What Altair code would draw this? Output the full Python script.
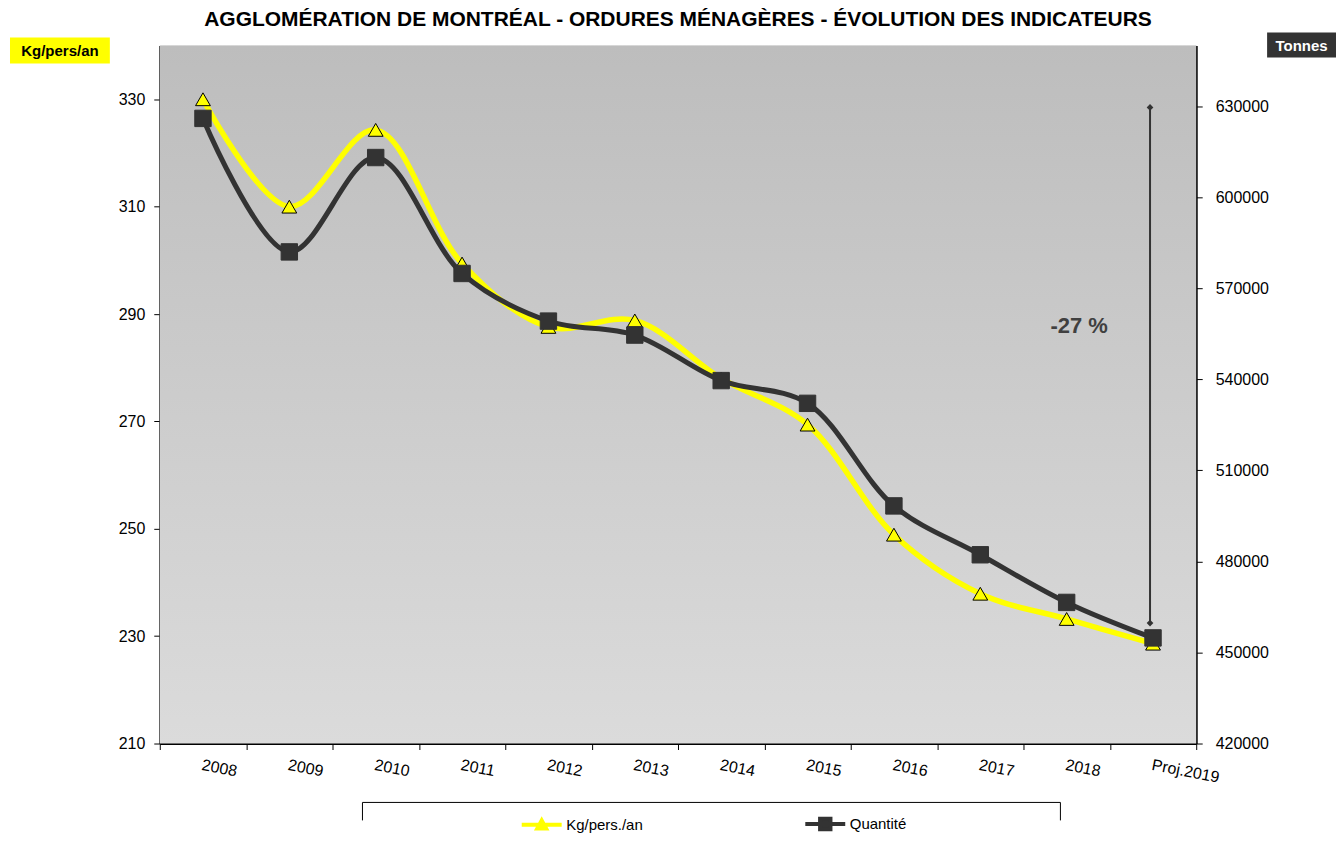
import altair as alt
import pandas as pd

years = ["2008", "2009", "2010", "2011", "2012", "2013", "2014", "2015",
         "2016", "2017", "2018", "Proj.2019"]
kg = [330, 310, 324.3, 299.4, 287.6, 288.8, 278, 269.4, 248.9, 237.9, 233.2, 228.6]
tonnes = [626000, 582000, 613100, 574900, 559200, 554600, 539600, 532100,
          498300, 482200, 466500, 454800]

ann_year = ["Proj.2019"]
ann_top = [629600]
ann_bottom = [459700]
ann_label = ["-27 %"]
ann_label_y = [557600]

series_names = ["Kg/pers./an", "Quantité"]
series_colors = ["#ffff00", "#333333"]
# legend symbols: short line segment with the series marker
legend_symbols = ["M-5,0H5M0,-1.1L1.1,0.9H-1.1Z", "M-5,0H5M-1.3,-1.3H1.3V1.3H-1.3Z"]

left_ticks = [210, 230, 250, 270, 290, 310, 330]
right_ticks = [420000, 450000, 480000, 510000, 540000, 570000, 600000, 630000]

W, H = 1038, 699
FONT = "Liberation Sans"

df_kg = pd.DataFrame({"annee": years, "valeur": kg, "serie": series_names[0]})
df_t = pd.DataFrame({"annee": years, "valeur": tonnes, "serie": series_names[1]})
df_leg = pd.DataFrame({"serie": series_names})
df_ann = pd.DataFrame({"annee": ann_year, "haut": ann_top, "bas": ann_bottom,
                       "label": ann_label, "ly": ann_label_y})
one = pd.DataFrame({"k": [0]})

xenc = alt.X("annee:N", sort=years, title=None,
             scale=alt.Scale(type="band", paddingInner=0, paddingOuter=0),
             axis=alt.Axis(tickBand="extent", labelAngle=11, labelAlign="left",
                           labelBaseline="top", labelPadding=7,
                           labelFontSize=16, labelFont=FONT, labelColor="black",
                           tickColor="black", tickSize=6, domainColor="black",
                           domainWidth=2))

left_scale = alt.Scale(domain=[210, 340], nice=False, zero=False)
right_scale = alt.Scale(domain=[420000, 650000], nice=False, zero=False)

left_axis = alt.Axis(values=left_ticks, grid=False,
                     title=None, labelFontSize=16, labelFont=FONT,
                     labelColor="black", tickColor="black", tickSize=6,
                     domainColor="black", domainWidth=2, labelPadding=9)
right_axis = alt.Axis(values=right_ticks, grid=False, title=None, orient="right", format="d",
                      labelFontSize=16, labelFont=FONT, labelColor="black",
                      tickColor="black", tickSize=6, domainColor="black",
                      domainWidth=2, labelPadding=13)

leg = alt.Legend(title=None, orient="none", legendX=375, legendY=772,
                 direction="horizontal", columnPadding=154,
                 labelFontSize=15, labelFont=FONT, labelColor="black",
                 symbolSize=64, labelOffset=17, symbolStrokeWidth=4, symbolOpacity=1)

color_scale = alt.Scale(domain=series_names, range=series_colors)
stroke_enc = alt.Stroke("serie:N", scale=color_scale, legend=leg)
fill_enc = alt.Fill("serie:N", scale=color_scale, legend=leg)
shape_enc = alt.Shape("serie:N", scale=alt.Scale(domain=series_names, range=legend_symbols),
                      legend=leg)

bg = alt.Chart(one).mark_rect(
    fill=alt.Gradient(gradient="linear",
                      stops=[alt.GradientStop(color="#bdbdbd", offset=0),
                             alt.GradientStop(color="#dbdbdb", offset=1)],
                      x1=0, x2=0, y1=0, y2=1)
).encode(x=alt.value(0), x2=alt.value(W), y=alt.value(0), y2=alt.value(H))

y_kg = alt.Y("valeur:Q", scale=left_scale, axis=left_axis)
left = alt.layer(
    alt.Chart(df_kg).mark_line(strokeWidth=5.5, interpolate="catmull-rom")
    .encode(x=xenc, y=y_kg, stroke=stroke_enc),
    alt.Chart(df_kg).mark_point(shape="triangle-up", filled=True, fill=series_colors[0],
                                stroke="black", strokeWidth=1, size=220, opacity=1)
    .encode(x=xenc, y=y_kg),
)

y_t = alt.Y("valeur:Q", scale=right_scale, axis=right_axis)
right = alt.layer(
    alt.Chart(df_t).mark_line(strokeWidth=5, interpolate="catmull-rom")
    .encode(x=xenc, y=y_t, stroke=stroke_enc),
    alt.Chart(df_t).mark_point(shape="square", filled=True, fill=series_colors[1],
                               stroke=series_colors[1], strokeWidth=1, size=270, opacity=1)
    .encode(x=xenc, y=y_t),
    alt.Chart(df_ann).mark_rule(color="#333333", strokeWidth=2, xOffset=-3)
    .encode(x=xenc, y=alt.Y("haut:Q", scale=right_scale, axis=right_axis), y2="bas:Q"),
    alt.Chart(df_ann).mark_point(shape="diamond", filled=True, color="#333333", size=45,
                                 opacity=1, xOffset=-3)
    .encode(x=xenc, y=alt.Y("haut:Q", scale=right_scale, axis=right_axis)),
    alt.Chart(df_ann).mark_point(shape="diamond", filled=True, color="#333333", size=45,
                                 opacity=1, xOffset=-3)
    .encode(x=xenc, y=alt.Y("bas:Q", scale=right_scale, axis=right_axis)),
    alt.Chart(df_ann).mark_text(fontSize=22, fontWeight="bold", font=FONT, color="#404040", dx=-74)
    .encode(x=xenc, y=alt.Y("ly:Q", scale=right_scale, axis=right_axis), text="label:N"),
)

# legend carrier (draws nothing, only feeds the legend)
legend_layer = alt.Chart(df_leg).transform_filter("false").mark_point(filled=True).encode(
    fill=fill_enc, shape=shape_enc, stroke=stroke_enc)

# axis unit boxes and legend frame (decorations)
deco = alt.layer(
    alt.Chart(one).mark_rect(fill="#ffff00").encode(
        x=alt.value(-150), x2=alt.value(-50), y=alt.value(-8), y2=alt.value(18)),
    alt.Chart(one).mark_text(text="Kg/pers/an", fontSize=15, fontWeight="bold", font=FONT,
                             color="black").encode(x=alt.value(-100), y=alt.value(5)),
    alt.Chart(one).mark_rect(fill="#333333").encode(
        x=alt.value(1109), x2=alt.value(1178), y=alt.value(-13), y2=alt.value(12)),
    alt.Chart(one).mark_text(text="Tonnes", fontSize=15, fontWeight="bold", font=FONT,
                             color="white").encode(x=alt.value(1143.5), y=alt.value(0)),
    alt.Chart(one).mark_rule(color="black", strokeWidth=1).encode(
        x=alt.value(203), x2=alt.value(902), y=alt.value(758)),
    alt.Chart(one).mark_rule(color="black", strokeWidth=1).encode(
        x=alt.value(203), y=alt.value(758), y2=alt.value(776)),
    alt.Chart(one).mark_rule(color="black", strokeWidth=1).encode(
        x=alt.value(902), y=alt.value(758), y2=alt.value(776)),
)

chart = alt.layer(bg, left, right, legend_layer, deco).resolve_scale(
    y="independent", fill="shared", shape="shared", stroke="shared"
).properties(
    width=W, height=H,
    padding={"left": 2, "top": 0, "right": 0, "bottom": 0},
    title=alt.Title("AGGLOMÉRATION DE MONTRÉAL - ORDURES MÉNAGÈRES - ÉVOLUTION DES INDICATEURS",
                    fontSize=21, font=FONT, fontWeight="bold", color="black",
                    anchor="middle", frame="group", offset=5, dy=2),
).configure_view(stroke="#8a8a8a", strokeWidth=1.5).configure(background="white")

chart.save("out.html", embed_options={"renderer": "svg", "actions": False})
